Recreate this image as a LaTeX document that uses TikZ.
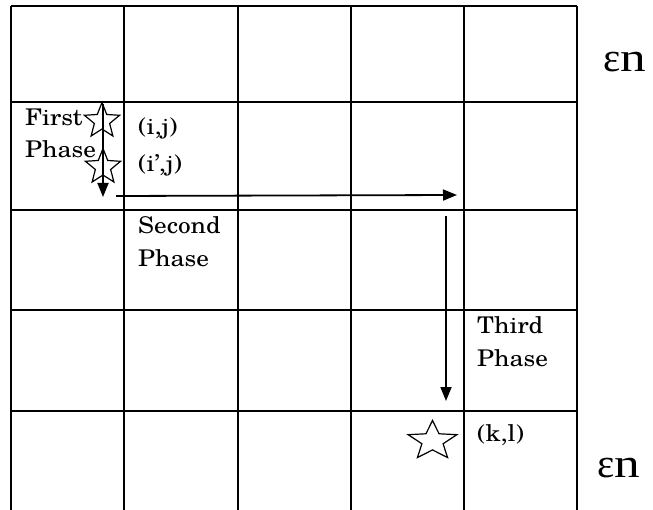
\documentclass[tikz,border=0pt]{standalone}
\usepackage{fontspec}
\usepackage{graphicx}
\setmainfont[FakeStretch=1.1]{texgyreschola-regular.otf}
\newfontfamily\libserif{Liberation Serif}
\usetikzlibrary{arrows.meta,shapes.geometric}
\newcommand{\epsn}{{\fontsize{41}{41}\selectfont\libserif ε\scalebox{1.25}[1]{n}}}
\begin{document}
\begin{tikzpicture}[x=1pt,y=-1pt,
  gridline/.style={line width=2pt},
  phasearrow/.style={line width=1.8pt,-{Triangle[length=14pt,width=11pt]}},
  lbl/.style={anchor=base west,inner sep=0pt,font=\fontsize{23}{27}\selectfont},
  starnode/.style={star,star points=5,star point ratio=2.3,draw,line width=1.2pt,inner sep=0pt,minimum size=37pt},
  epslbl/.style={anchor=base west,inner sep=0pt}]
\useasboundingbox (0,0) rectangle (653,510);
% grid
\foreach \x in {11,124,237.5,351,463.5,577} \draw[gridline] (\x,6) -- (\x,510);
\foreach \y in {6,102,210,310,411} \draw[gridline] (11,\y) -- (577,\y);
% stars
\node[starnode] (s1) at (102,121) {};
\node[starnode] (s2) at (103,167) {};
\begin{scope}[shift={(432.5,441)},xscale=1.25,transform shape]
  \node[starnode,minimum size=41pt] (s3) at (0,0) {};
\end{scope}
% arrows
\coordinate (a1s) at (103,104);
\coordinate (a1e) at (103,197);
\coordinate (a2s) at (116,196);
\coordinate (a2e) at (457,195);
\coordinate (a3s) at (446,216);
\coordinate (a3e) at (446,401);
\draw[phasearrow] (a1s) -- (a1e);
\draw[phasearrow] (a2s) -- (a2e);
\draw[phasearrow] (a3s) -- (a3e);
% labels
\node[lbl] (first1) at (25,125.5) {First};
\node[lbl] (first2) at (25,157.5) {Phase};
\node[lbl] (ij) at (138,134.5) {(i,j)};
\node[lbl] (ipj) at (138,171.5) {(i’,j)};
\node[lbl] (second1) at (138,234) {Second};
\node[lbl] (second2) at (138,267) {Phase};
\node[lbl] (third1) at (477,334) {Third};
\node[lbl] (third2) at (477,366.5) {Phase};
\node[lbl] (kl) at (477,441.5) {(k,l)};
\node[epslbl] (eps1) at (603,72) {\epsn};
\node[epslbl] (eps2) at (597,477) {\epsn};
\end{tikzpicture}
\end{document}
